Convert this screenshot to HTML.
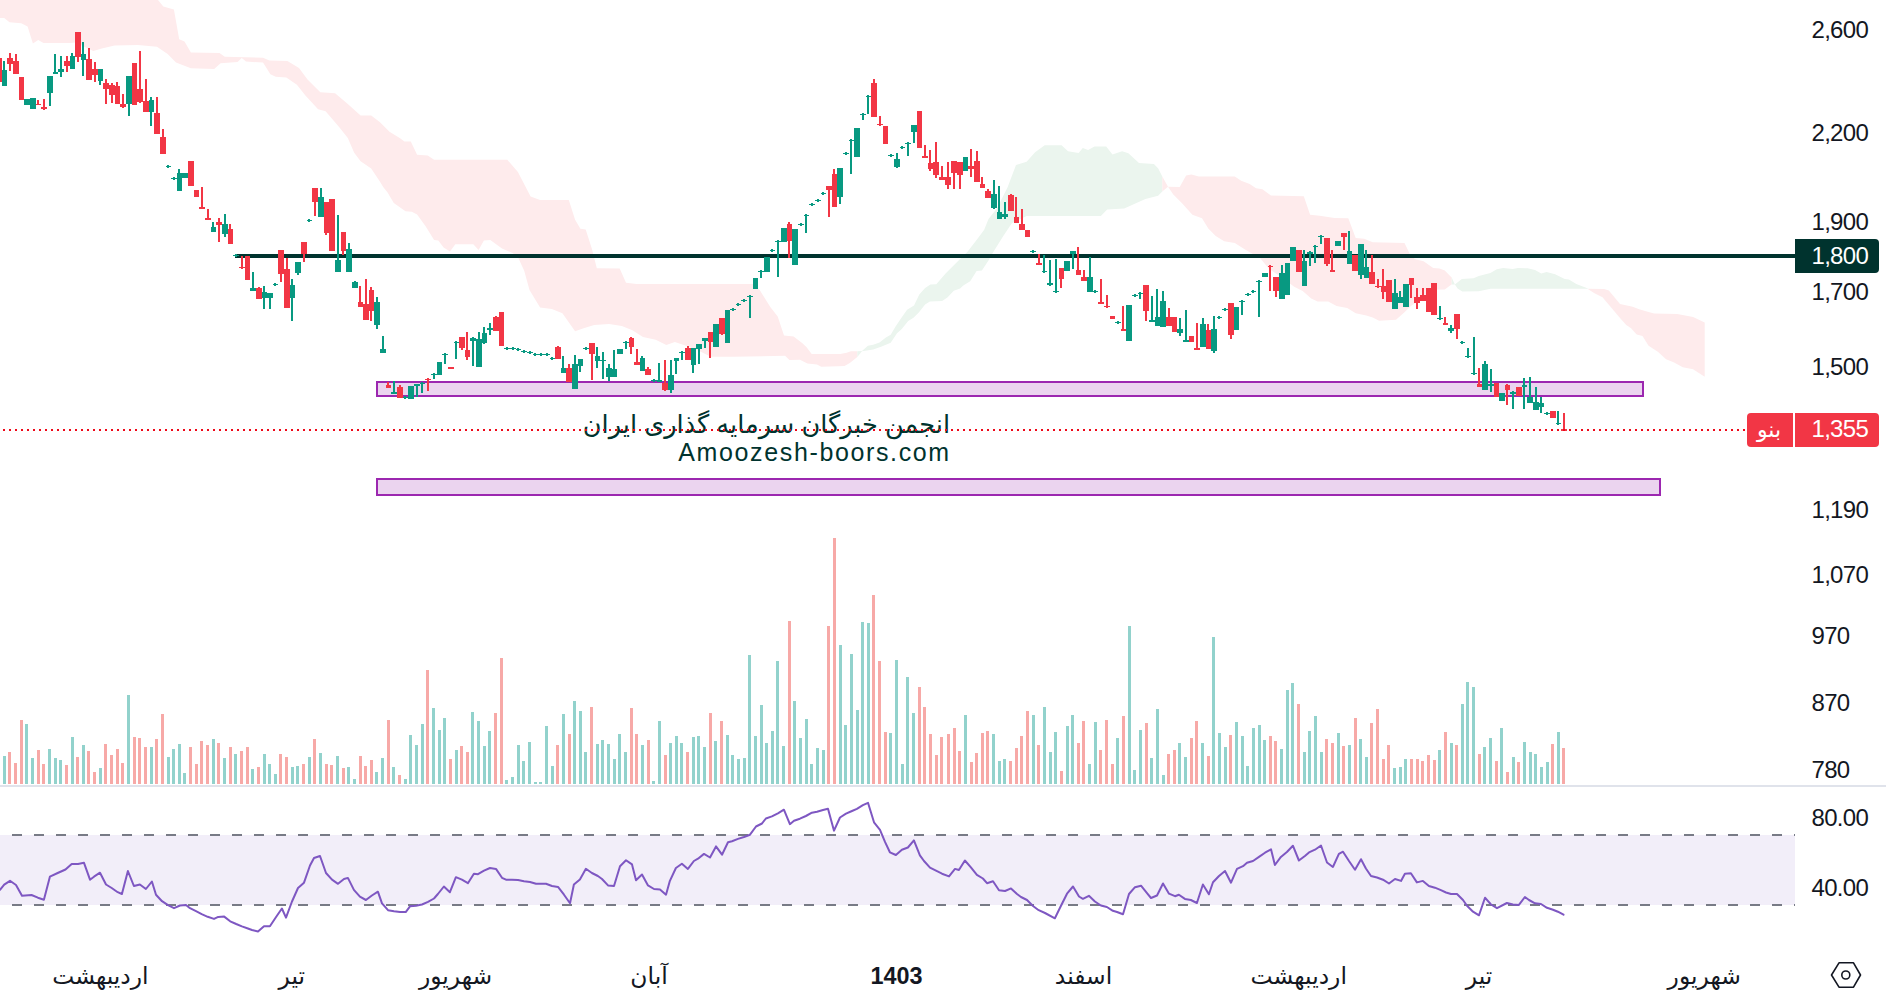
<!DOCTYPE html>
<html lang="fa"><head><meta charset="utf-8"><title>chart</title>
<style>html,body{margin:0;padding:0;background:#fff;overflow:hidden}svg{display:block}text{font-family:"Liberation Sans", "DejaVu Sans", sans-serif;}</style></head><body>
<svg width="1886" height="1000" viewBox="0 0 1886 1000">
<rect width="1886" height="1000" fill="#fff"/>
<path d="M0.0 0.0 L158.0 0.0 L163.3 6.4 L173.9 9.5 L176.0 21.2 L179.2 39.2 L184.5 41.4 L190.9 52.6 L219.5 53.0 L224.8 56.8 L263.0 57.7 L269.4 60.4 L287.4 60.9 L299.0 67.9 L307.5 79.5 L320.3 92.3 L335.1 93.3 L347.8 103.9 L360.6 115.6 L371.2 115.6 L380.0 122.3 L389.5 131.8 L400.1 138.2 L404.4 141.4 L410.8 141.4 L417.1 154.7 L427.7 155.6 L434.1 159.8 L507.3 159.8 L517.9 172.1 L530.6 196.5 L540.1 200.1 L568.8 200.1 L575.1 219.8 L580.4 228.7 L585.7 229.4 L592.1 249.5 L596.8 268.2 L619.7 268.6 L626.0 282.8 L636.6 284.1 L753.3 284.1 L759.7 290.0 L770.3 307.0 L777.7 316.5 L784.0 335.6 L793.6 336.6 L802.1 343.0 L806.4 347.0 L811.7 353.9 L840.3 353.9 L846.7 352.8 L850.9 351.2 L857.3 351.2 L857.3 357.0 L849.8 362.9 L844.5 366.0 L838.1 366.3 L821.2 366.8 L817.0 364.5 L807.4 363.4 L800.0 359.7 L789.4 360.0 L785.1 355.7 L732.1 356.8 L710.9 356.8 L700.3 351.5 L687.6 346.2 L674.8 342.0 L666.3 345.1 L655.7 339.8 L643.0 337.1 L632.4 330.3 L621.8 326.0 L609.1 323.9 L594.2 325.0 L583.6 328.2 L575.1 331.3 L562.4 313.3 L551.8 309.1 L540.1 307.4 L529.5 290.0 L524.2 270.7 L517.9 256.9 L512.6 253.1 L502.0 248.5 L490.3 240.0 L483.9 240.4 L478.6 250.0 L473.3 244.2 L455.3 244.2 L450.0 251.6 L443.6 247.4 L438.3 240.4 L434.1 240.0 L425.6 226.2 L417.1 214.5 L411.8 211.8 L405.5 211.3 L393.8 202.9 L387.4 192.3 L383.2 187.0 L380.0 181.7 L371.2 168.6 L360.6 161.2 L354.2 152.7 L347.8 137.9 L339.3 127.3 L325.6 111.3 L318.1 109.2 L305.4 95.4 L296.9 84.8 L286.3 77.4 L275.7 76.8 L270.4 74.2 L263.0 62.6 L246.0 61.5 L241.8 58.0 L237.5 61.9 L220.6 63.2 L214.2 68.9 L190.9 68.3 L176.0 62.6 L167.6 54.1 L157.0 46.7 L137.9 45.0 L114.5 45.6 L101.8 48.4 L93.3 50.9 L75.3 42.4 L70.0 43.0 L43.5 43.0 L38.2 39.9 L32.9 43.5 L27.6 26.5 L21.2 23.3 L9.5 22.3 L4.2 18.0 L0.0 18.0 Z" fill="#feebec"/>
<path d="M857.3 351.2 L862.0 351.0 L867.9 345.7 L873.2 344.8 L879.5 342.5 L885.9 337.4 L890.7 334.8 L895.4 326.8 L901.8 317.3 L907.1 309.8 L914.0 305.6 L919.3 294.5 L925.1 288.1 L930.4 284.4 L936.3 284.2 L945.8 273.3 L959.1 260.0 L967.3 252.0 L977.9 238.2 L984.2 229.7 L988.5 219.1 L996.9 208.5 L1007.6 187.3 L1016.0 165.0 L1026.6 161.8 L1035.1 152.3 L1044.7 145.3 L1061.6 145.3 L1068.0 151.2 L1078.6 152.9 L1082.8 148.0 L1088.1 150.1 L1094.5 146.5 L1106.2 146.5 L1112.5 154.4 L1122.1 151.2 L1128.4 153.3 L1139.0 162.9 L1153.9 163.9 L1158.1 168.2 L1162.3 176.5 L1162.3 191.5 L1158.1 195.7 L1145.4 198.9 L1124.2 208.5 L1107.2 209.5 L1100.9 215.9 L1026.6 215.9 L1011.8 223.3 L1003.3 236.0 L992.7 253.0 L988.8 260.0 L981.9 270.4 L976.6 271.1 L970.2 281.2 L963.3 285.5 L960.1 288.6 L953.8 290.8 L947.4 297.6 L942.1 301.1 L929.9 301.4 L925.1 304.5 L918.8 312.5 L913.5 317.8 L908.2 321.0 L901.8 328.9 L897.0 333.2 L890.7 342.7 L881.7 346.4 L873.2 349.6 L862.0 351.2 L857.3 357.0 Z" fill="#ebf5ee"/>
<path d="M1162.3 191.5 L1168.0 186.8 L1179.7 187.1 L1186.1 175.5 L1191.4 174.4 L1198.8 176.5 L1234.8 176.5 L1241.2 180.8 L1249.7 183.9 L1256.0 188.2 L1262.4 189.2 L1270.9 195.6 L1303.8 196.2 L1310.1 214.7 L1319.7 215.7 L1334.5 217.9 L1348.3 218.3 L1355.7 238.0 L1364.2 238.7 L1372.7 242.3 L1404.5 242.9 L1409.8 253.9 L1415.1 259.2 L1423.6 261.3 L1430.0 265.8 L1433.2 268.0 L1439.5 268.5 L1444.8 270.6 L1450.1 275.9 L1451.7 277.5 L1451.7 284.6 L1450.1 285.5 L1444.8 289.5 L1430.0 289.8 L1425.7 296.3 L1410.9 305.9 L1404.5 312.2 L1396.0 319.7 L1379.1 320.7 L1372.7 317.6 L1366.3 315.4 L1355.7 313.3 L1347.2 308.0 L1336.6 305.9 L1328.2 301.6 L1317.6 301.6 L1311.2 298.5 L1302.7 291.0 L1294.2 286.8 L1281.5 277.3 L1268.8 268.8 L1260.3 258.2 L1245.4 249.7 L1234.8 242.9 L1224.2 241.2 L1215.7 235.9 L1208.3 228.5 L1202.0 218.3 L1192.4 214.7 L1181.8 203.0 L1173.3 194.5 L1168.0 186.8 L1162.3 176.5 Z" fill="#feebec"/>
<path d="M1451.7 284.6 L1454.9 284.6 L1461.8 279.1 L1473.5 278.2 L1478.8 275.9 L1490.4 272.9 L1496.8 269.3 L1503.2 268.0 L1512.7 269.0 L1518.0 268.0 L1527.6 268.3 L1535.0 270.1 L1541.3 273.6 L1546.6 271.9 L1555.1 274.3 L1564.7 279.1 L1568.9 279.4 L1576.3 283.9 L1588.0 288.6 L1588.0 288.8 L1490.4 288.8 L1478.8 291.3 L1462.3 291.6 L1457.6 288.6 L1454.9 284.6 L1451.7 277.5 Z" fill="#ebf5ee"/>
<path d="M1588.2 288.8 L1604.1 289.0 L1608.8 290.6 L1620.0 304.1 L1632.7 306.8 L1639.1 309.2 L1648.6 311.9 L1654.2 313.6 L1677.2 314.0 L1693.1 317.1 L1704.7 322.4 L1704.7 376.8 L1693.1 369.2 L1682.8 367.2 L1674.1 362.5 L1666.1 359.3 L1658.2 352.1 L1648.6 345.8 L1642.5 335.9 L1636.7 334.6 L1631.1 328.3 L1626.3 325.1 L1620.0 317.9 L1612.0 308.4 L1602.5 297.3 L1594.5 293.3 L1588.2 289.2 Z" fill="#feebec"/>
<rect x="377" y="382" width="1266" height="14" fill="#ebd4ef" stroke="#9c27b0" stroke-width="2"/>
<rect x="377" y="479" width="1283" height="16" fill="#ebd4ef" stroke="#9c27b0" stroke-width="2"/>
<g shape-rendering="crispEdges">
<rect x="3" y="756" width="3" height="28" fill="#92d2cc"/>
<rect x="8" y="752" width="3" height="32" fill="#f7a9a7"/>
<rect x="14" y="763" width="3" height="21" fill="#f7a9a7"/>
<rect x="20" y="720" width="3" height="64" fill="#f7a9a7"/>
<rect x="25" y="724" width="3" height="60" fill="#92d2cc"/>
<rect x="31" y="758" width="3" height="26" fill="#92d2cc"/>
<rect x="37" y="750" width="3" height="34" fill="#f7a9a7"/>
<rect x="42" y="764" width="3" height="20" fill="#f7a9a7"/>
<rect x="48" y="749" width="3" height="35" fill="#92d2cc"/>
<rect x="54" y="758" width="3" height="26" fill="#92d2cc"/>
<rect x="59" y="760" width="3" height="24" fill="#92d2cc"/>
<rect x="65" y="765" width="3" height="19" fill="#f7a9a7"/>
<rect x="71" y="737" width="3" height="47" fill="#92d2cc"/>
<rect x="76" y="757" width="3" height="27" fill="#f7a9a7"/>
<rect x="82" y="745" width="3" height="39" fill="#92d2cc"/>
<rect x="87" y="751" width="3" height="33" fill="#f7a9a7"/>
<rect x="93" y="772" width="3" height="12" fill="#f7a9a7"/>
<rect x="99" y="768" width="3" height="16" fill="#92d2cc"/>
<rect x="104" y="744" width="3" height="40" fill="#f7a9a7"/>
<rect x="110" y="755" width="3" height="29" fill="#f7a9a7"/>
<rect x="116" y="749" width="3" height="35" fill="#f7a9a7"/>
<rect x="121" y="763" width="3" height="21" fill="#f7a9a7"/>
<rect x="127" y="695" width="3" height="89" fill="#92d2cc"/>
<rect x="133" y="737" width="3" height="47" fill="#f7a9a7"/>
<rect x="138" y="738" width="3" height="46" fill="#f7a9a7"/>
<rect x="144" y="747" width="3" height="37" fill="#f7a9a7"/>
<rect x="150" y="747" width="3" height="37" fill="#92d2cc"/>
<rect x="155" y="739" width="3" height="45" fill="#f7a9a7"/>
<rect x="161" y="714" width="3" height="70" fill="#f7a9a7"/>
<rect x="167" y="757" width="3" height="27" fill="#92d2cc"/>
<rect x="172" y="749" width="3" height="35" fill="#92d2cc"/>
<rect x="178" y="744" width="3" height="40" fill="#92d2cc"/>
<rect x="183" y="773" width="3" height="11" fill="#92d2cc"/>
<rect x="189" y="747" width="3" height="37" fill="#f7a9a7"/>
<rect x="195" y="764" width="3" height="20" fill="#f7a9a7"/>
<rect x="200" y="741" width="3" height="43" fill="#f7a9a7"/>
<rect x="206" y="745" width="3" height="39" fill="#f7a9a7"/>
<rect x="212" y="739" width="3" height="45" fill="#92d2cc"/>
<rect x="217" y="743" width="3" height="41" fill="#f7a9a7"/>
<rect x="223" y="758" width="3" height="26" fill="#92d2cc"/>
<rect x="229" y="747" width="3" height="37" fill="#f7a9a7"/>
<rect x="234" y="754" width="3" height="30" fill="#92d2cc"/>
<rect x="240" y="751" width="3" height="33" fill="#f7a9a7"/>
<rect x="246" y="747" width="3" height="37" fill="#f7a9a7"/>
<rect x="251" y="769" width="3" height="15" fill="#92d2cc"/>
<rect x="257" y="767" width="3" height="17" fill="#f7a9a7"/>
<rect x="263" y="754" width="3" height="30" fill="#92d2cc"/>
<rect x="268" y="764" width="3" height="20" fill="#92d2cc"/>
<rect x="274" y="774" width="3" height="10" fill="#92d2cc"/>
<rect x="279" y="754" width="3" height="30" fill="#f7a9a7"/>
<rect x="285" y="757" width="3" height="27" fill="#f7a9a7"/>
<rect x="291" y="767" width="3" height="17" fill="#92d2cc"/>
<rect x="296" y="766" width="3" height="18" fill="#92d2cc"/>
<rect x="302" y="764" width="3" height="20" fill="#f7a9a7"/>
<rect x="308" y="757" width="3" height="27" fill="#92d2cc"/>
<rect x="313" y="739" width="3" height="45" fill="#f7a9a7"/>
<rect x="319" y="753" width="3" height="31" fill="#92d2cc"/>
<rect x="325" y="764" width="3" height="20" fill="#f7a9a7"/>
<rect x="330" y="765" width="3" height="19" fill="#f7a9a7"/>
<rect x="336" y="756" width="3" height="28" fill="#92d2cc"/>
<rect x="342" y="768" width="3" height="16" fill="#f7a9a7"/>
<rect x="347" y="767" width="3" height="17" fill="#92d2cc"/>
<rect x="353" y="779" width="3" height="5" fill="#92d2cc"/>
<rect x="359" y="756" width="3" height="28" fill="#f7a9a7"/>
<rect x="364" y="766" width="3" height="18" fill="#f7a9a7"/>
<rect x="370" y="760" width="3" height="24" fill="#f7a9a7"/>
<rect x="375" y="772" width="3" height="12" fill="#92d2cc"/>
<rect x="381" y="758" width="3" height="26" fill="#92d2cc"/>
<rect x="387" y="720" width="3" height="64" fill="#f7a9a7"/>
<rect x="392" y="767" width="3" height="17" fill="#92d2cc"/>
<rect x="398" y="775" width="3" height="9" fill="#f7a9a7"/>
<rect x="404" y="779" width="3" height="5" fill="#92d2cc"/>
<rect x="409" y="735" width="3" height="49" fill="#92d2cc"/>
<rect x="415" y="745" width="3" height="39" fill="#92d2cc"/>
<rect x="421" y="724" width="3" height="60" fill="#92d2cc"/>
<rect x="426" y="670" width="3" height="114" fill="#f7a9a7"/>
<rect x="432" y="708" width="3" height="76" fill="#92d2cc"/>
<rect x="438" y="730" width="3" height="54" fill="#92d2cc"/>
<rect x="443" y="718" width="3" height="66" fill="#92d2cc"/>
<rect x="449" y="759" width="3" height="25" fill="#f7a9a7"/>
<rect x="455" y="750" width="3" height="34" fill="#92d2cc"/>
<rect x="460" y="746" width="3" height="38" fill="#f7a9a7"/>
<rect x="466" y="752" width="3" height="32" fill="#f7a9a7"/>
<rect x="471" y="712" width="3" height="72" fill="#92d2cc"/>
<rect x="477" y="721" width="3" height="63" fill="#92d2cc"/>
<rect x="483" y="746" width="3" height="38" fill="#92d2cc"/>
<rect x="488" y="731" width="3" height="53" fill="#92d2cc"/>
<rect x="494" y="713" width="3" height="71" fill="#f7a9a7"/>
<rect x="500" y="658" width="3" height="126" fill="#f7a9a7"/>
<rect x="505" y="780" width="3" height="4" fill="#92d2cc"/>
<rect x="511" y="777" width="3" height="7" fill="#92d2cc"/>
<rect x="517" y="745" width="3" height="39" fill="#92d2cc"/>
<rect x="522" y="761" width="3" height="23" fill="#92d2cc"/>
<rect x="528" y="742" width="3" height="42" fill="#92d2cc"/>
<rect x="534" y="782" width="3" height="2" fill="#92d2cc"/>
<rect x="539" y="782" width="3" height="2" fill="#92d2cc"/>
<rect x="545" y="726" width="3" height="58" fill="#92d2cc"/>
<rect x="551" y="766" width="3" height="18" fill="#92d2cc"/>
<rect x="556" y="745" width="3" height="39" fill="#f7a9a7"/>
<rect x="562" y="714" width="3" height="70" fill="#92d2cc"/>
<rect x="568" y="734" width="3" height="50" fill="#f7a9a7"/>
<rect x="573" y="701" width="3" height="83" fill="#92d2cc"/>
<rect x="579" y="711" width="3" height="73" fill="#92d2cc"/>
<rect x="584" y="752" width="3" height="32" fill="#92d2cc"/>
<rect x="590" y="707" width="3" height="77" fill="#f7a9a7"/>
<rect x="596" y="744" width="3" height="40" fill="#92d2cc"/>
<rect x="601" y="740" width="3" height="44" fill="#92d2cc"/>
<rect x="607" y="744" width="3" height="40" fill="#92d2cc"/>
<rect x="613" y="759" width="3" height="25" fill="#92d2cc"/>
<rect x="618" y="734" width="3" height="50" fill="#92d2cc"/>
<rect x="624" y="752" width="3" height="32" fill="#92d2cc"/>
<rect x="630" y="708" width="3" height="76" fill="#f7a9a7"/>
<rect x="635" y="734" width="3" height="50" fill="#f7a9a7"/>
<rect x="641" y="745" width="3" height="39" fill="#92d2cc"/>
<rect x="647" y="740" width="3" height="44" fill="#f7a9a7"/>
<rect x="652" y="781" width="3" height="3" fill="#92d2cc"/>
<rect x="658" y="721" width="3" height="63" fill="#92d2cc"/>
<rect x="664" y="755" width="3" height="29" fill="#f7a9a7"/>
<rect x="669" y="743" width="3" height="41" fill="#92d2cc"/>
<rect x="675" y="736" width="3" height="48" fill="#92d2cc"/>
<rect x="680" y="743" width="3" height="41" fill="#92d2cc"/>
<rect x="686" y="752" width="3" height="32" fill="#f7a9a7"/>
<rect x="692" y="737" width="3" height="47" fill="#92d2cc"/>
<rect x="697" y="736" width="3" height="48" fill="#92d2cc"/>
<rect x="703" y="747" width="3" height="37" fill="#92d2cc"/>
<rect x="709" y="713" width="3" height="71" fill="#f7a9a7"/>
<rect x="714" y="741" width="3" height="43" fill="#92d2cc"/>
<rect x="720" y="721" width="3" height="63" fill="#f7a9a7"/>
<rect x="726" y="735" width="3" height="49" fill="#92d2cc"/>
<rect x="731" y="755" width="3" height="29" fill="#92d2cc"/>
<rect x="737" y="759" width="3" height="25" fill="#92d2cc"/>
<rect x="743" y="758" width="3" height="26" fill="#92d2cc"/>
<rect x="748" y="655" width="3" height="129" fill="#92d2cc"/>
<rect x="754" y="736" width="3" height="48" fill="#92d2cc"/>
<rect x="760" y="705" width="3" height="79" fill="#92d2cc"/>
<rect x="765" y="743" width="3" height="41" fill="#92d2cc"/>
<rect x="771" y="731" width="3" height="53" fill="#92d2cc"/>
<rect x="776" y="661" width="3" height="123" fill="#92d2cc"/>
<rect x="782" y="746" width="3" height="38" fill="#92d2cc"/>
<rect x="788" y="621" width="3" height="163" fill="#f7a9a7"/>
<rect x="793" y="701" width="3" height="83" fill="#92d2cc"/>
<rect x="799" y="738" width="3" height="46" fill="#92d2cc"/>
<rect x="805" y="719" width="3" height="65" fill="#92d2cc"/>
<rect x="810" y="764" width="3" height="20" fill="#92d2cc"/>
<rect x="816" y="748" width="3" height="36" fill="#92d2cc"/>
<rect x="822" y="750" width="3" height="34" fill="#92d2cc"/>
<rect x="827" y="626" width="3" height="158" fill="#f7a9a7"/>
<rect x="833" y="538" width="3" height="246" fill="#f7a9a7"/>
<rect x="839" y="645" width="3" height="139" fill="#92d2cc"/>
<rect x="844" y="725" width="3" height="59" fill="#92d2cc"/>
<rect x="850" y="654" width="3" height="130" fill="#92d2cc"/>
<rect x="856" y="710" width="3" height="74" fill="#92d2cc"/>
<rect x="861" y="622" width="3" height="162" fill="#92d2cc"/>
<rect x="867" y="623" width="3" height="161" fill="#92d2cc"/>
<rect x="872" y="595" width="3" height="189" fill="#f7a9a7"/>
<rect x="878" y="661" width="3" height="123" fill="#f7a9a7"/>
<rect x="884" y="732" width="3" height="52" fill="#f7a9a7"/>
<rect x="889" y="733" width="3" height="51" fill="#92d2cc"/>
<rect x="895" y="660" width="3" height="124" fill="#92d2cc"/>
<rect x="901" y="764" width="3" height="20" fill="#92d2cc"/>
<rect x="906" y="677" width="3" height="107" fill="#92d2cc"/>
<rect x="912" y="713" width="3" height="71" fill="#92d2cc"/>
<rect x="918" y="687" width="3" height="97" fill="#f7a9a7"/>
<rect x="923" y="707" width="3" height="77" fill="#f7a9a7"/>
<rect x="929" y="734" width="3" height="50" fill="#f7a9a7"/>
<rect x="935" y="755" width="3" height="29" fill="#f7a9a7"/>
<rect x="940" y="737" width="3" height="47" fill="#f7a9a7"/>
<rect x="947" y="734" width="3" height="50" fill="#f7a9a7"/>
<rect x="953" y="728" width="3" height="56" fill="#f7a9a7"/>
<rect x="958" y="751" width="3" height="33" fill="#f7a9a7"/>
<rect x="964" y="715" width="3" height="69" fill="#92d2cc"/>
<rect x="970" y="762" width="3" height="22" fill="#f7a9a7"/>
<rect x="975" y="753" width="3" height="31" fill="#f7a9a7"/>
<rect x="981" y="733" width="3" height="51" fill="#f7a9a7"/>
<rect x="986" y="731" width="3" height="53" fill="#f7a9a7"/>
<rect x="992" y="734" width="3" height="50" fill="#92d2cc"/>
<rect x="998" y="761" width="3" height="23" fill="#92d2cc"/>
<rect x="1003" y="759" width="3" height="25" fill="#92d2cc"/>
<rect x="1009" y="761" width="3" height="23" fill="#f7a9a7"/>
<rect x="1015" y="748" width="3" height="36" fill="#f7a9a7"/>
<rect x="1020" y="736" width="3" height="48" fill="#f7a9a7"/>
<rect x="1026" y="711" width="3" height="73" fill="#f7a9a7"/>
<rect x="1032" y="715" width="3" height="69" fill="#92d2cc"/>
<rect x="1037" y="745" width="3" height="39" fill="#f7a9a7"/>
<rect x="1043" y="707" width="3" height="77" fill="#92d2cc"/>
<rect x="1049" y="752" width="3" height="32" fill="#92d2cc"/>
<rect x="1054" y="732" width="3" height="52" fill="#92d2cc"/>
<rect x="1060" y="771" width="3" height="13" fill="#f7a9a7"/>
<rect x="1066" y="726" width="3" height="58" fill="#92d2cc"/>
<rect x="1071" y="715" width="3" height="69" fill="#92d2cc"/>
<rect x="1077" y="743" width="3" height="41" fill="#f7a9a7"/>
<rect x="1082" y="721" width="3" height="63" fill="#f7a9a7"/>
<rect x="1088" y="764" width="3" height="20" fill="#92d2cc"/>
<rect x="1094" y="722" width="3" height="62" fill="#92d2cc"/>
<rect x="1099" y="750" width="3" height="34" fill="#f7a9a7"/>
<rect x="1105" y="720" width="3" height="64" fill="#f7a9a7"/>
<rect x="1111" y="764" width="3" height="20" fill="#f7a9a7"/>
<rect x="1116" y="738" width="3" height="46" fill="#92d2cc"/>
<rect x="1122" y="716" width="3" height="68" fill="#f7a9a7"/>
<rect x="1128" y="626" width="3" height="158" fill="#92d2cc"/>
<rect x="1133" y="770" width="3" height="14" fill="#92d2cc"/>
<rect x="1139" y="730" width="3" height="54" fill="#92d2cc"/>
<rect x="1145" y="723" width="3" height="61" fill="#f7a9a7"/>
<rect x="1150" y="758" width="3" height="26" fill="#92d2cc"/>
<rect x="1156" y="709" width="3" height="75" fill="#92d2cc"/>
<rect x="1162" y="775" width="3" height="9" fill="#92d2cc"/>
<rect x="1167" y="754" width="3" height="30" fill="#f7a9a7"/>
<rect x="1173" y="750" width="3" height="34" fill="#f7a9a7"/>
<rect x="1178" y="743" width="3" height="41" fill="#92d2cc"/>
<rect x="1184" y="757" width="3" height="27" fill="#92d2cc"/>
<rect x="1190" y="738" width="3" height="46" fill="#f7a9a7"/>
<rect x="1195" y="721" width="3" height="63" fill="#f7a9a7"/>
<rect x="1201" y="743" width="3" height="41" fill="#92d2cc"/>
<rect x="1207" y="756" width="3" height="28" fill="#f7a9a7"/>
<rect x="1212" y="637" width="3" height="147" fill="#92d2cc"/>
<rect x="1218" y="733" width="3" height="51" fill="#92d2cc"/>
<rect x="1224" y="747" width="3" height="37" fill="#92d2cc"/>
<rect x="1229" y="735" width="3" height="49" fill="#f7a9a7"/>
<rect x="1235" y="722" width="3" height="62" fill="#92d2cc"/>
<rect x="1241" y="736" width="3" height="48" fill="#92d2cc"/>
<rect x="1246" y="766" width="3" height="18" fill="#92d2cc"/>
<rect x="1252" y="728" width="3" height="56" fill="#92d2cc"/>
<rect x="1258" y="725" width="3" height="59" fill="#92d2cc"/>
<rect x="1263" y="740" width="3" height="44" fill="#92d2cc"/>
<rect x="1269" y="736" width="3" height="48" fill="#f7a9a7"/>
<rect x="1274" y="741" width="3" height="43" fill="#f7a9a7"/>
<rect x="1280" y="749" width="3" height="35" fill="#92d2cc"/>
<rect x="1286" y="690" width="3" height="94" fill="#92d2cc"/>
<rect x="1291" y="683" width="3" height="101" fill="#92d2cc"/>
<rect x="1297" y="704" width="3" height="80" fill="#f7a9a7"/>
<rect x="1303" y="752" width="3" height="32" fill="#92d2cc"/>
<rect x="1308" y="731" width="3" height="53" fill="#92d2cc"/>
<rect x="1314" y="716" width="3" height="68" fill="#92d2cc"/>
<rect x="1320" y="752" width="3" height="32" fill="#92d2cc"/>
<rect x="1325" y="739" width="3" height="45" fill="#f7a9a7"/>
<rect x="1331" y="743" width="3" height="41" fill="#f7a9a7"/>
<rect x="1337" y="733" width="3" height="51" fill="#92d2cc"/>
<rect x="1342" y="746" width="3" height="38" fill="#f7a9a7"/>
<rect x="1348" y="745" width="3" height="39" fill="#92d2cc"/>
<rect x="1354" y="718" width="3" height="66" fill="#f7a9a7"/>
<rect x="1359" y="739" width="3" height="45" fill="#92d2cc"/>
<rect x="1365" y="757" width="3" height="27" fill="#92d2cc"/>
<rect x="1370" y="723" width="3" height="61" fill="#f7a9a7"/>
<rect x="1376" y="709" width="3" height="75" fill="#f7a9a7"/>
<rect x="1382" y="759" width="3" height="25" fill="#f7a9a7"/>
<rect x="1387" y="745" width="3" height="39" fill="#f7a9a7"/>
<rect x="1393" y="768" width="3" height="16" fill="#92d2cc"/>
<rect x="1399" y="767" width="3" height="17" fill="#92d2cc"/>
<rect x="1404" y="759" width="3" height="25" fill="#92d2cc"/>
<rect x="1410" y="759" width="3" height="25" fill="#f7a9a7"/>
<rect x="1416" y="759" width="3" height="25" fill="#f7a9a7"/>
<rect x="1421" y="761" width="3" height="23" fill="#f7a9a7"/>
<rect x="1427" y="755" width="3" height="29" fill="#f7a9a7"/>
<rect x="1433" y="760" width="3" height="24" fill="#f7a9a7"/>
<rect x="1438" y="750" width="3" height="34" fill="#92d2cc"/>
<rect x="1444" y="732" width="3" height="52" fill="#f7a9a7"/>
<rect x="1450" y="743" width="3" height="41" fill="#92d2cc"/>
<rect x="1455" y="745" width="3" height="39" fill="#f7a9a7"/>
<rect x="1461" y="704" width="3" height="80" fill="#92d2cc"/>
<rect x="1466" y="682" width="3" height="102" fill="#92d2cc"/>
<rect x="1472" y="687" width="3" height="97" fill="#92d2cc"/>
<rect x="1478" y="754" width="3" height="30" fill="#f7a9a7"/>
<rect x="1483" y="747" width="3" height="37" fill="#92d2cc"/>
<rect x="1489" y="738" width="3" height="46" fill="#92d2cc"/>
<rect x="1495" y="761" width="3" height="23" fill="#f7a9a7"/>
<rect x="1500" y="728" width="3" height="56" fill="#92d2cc"/>
<rect x="1506" y="772" width="3" height="12" fill="#f7a9a7"/>
<rect x="1512" y="757" width="3" height="27" fill="#92d2cc"/>
<rect x="1517" y="762" width="3" height="22" fill="#f7a9a7"/>
<rect x="1523" y="742" width="3" height="42" fill="#92d2cc"/>
<rect x="1529" y="752" width="3" height="32" fill="#92d2cc"/>
<rect x="1534" y="754" width="3" height="30" fill="#92d2cc"/>
<rect x="1540" y="767" width="3" height="17" fill="#92d2cc"/>
<rect x="1546" y="762" width="3" height="22" fill="#92d2cc"/>
<rect x="1551" y="744" width="3" height="40" fill="#f7a9a7"/>
<rect x="1557" y="732" width="3" height="52" fill="#92d2cc"/>
<rect x="1562" y="748" width="3" height="36" fill="#f7a9a7"/>
</g>
<rect x="235" y="254" width="1562" height="4" fill="#00332e"/>
<g shape-rendering="crispEdges">
<rect x="-2" y="58" width="2" height="24" fill="#f23645"/>
<rect x="-4" y="58" width="6" height="24" fill="#f23645"/>
<rect x="3" y="61" width="2" height="25" fill="#089981"/>
<rect x="2" y="70" width="5" height="16" fill="#089981"/>
<rect x="9" y="53" width="2" height="18" fill="#f23645"/>
<rect x="7" y="58" width="6" height="6" fill="#f23645"/>
<rect x="15" y="54" width="2" height="20" fill="#f23645"/>
<rect x="13" y="61" width="6" height="13" fill="#f23645"/>
<rect x="20" y="77" width="2" height="23" fill="#f23645"/>
<rect x="19" y="77" width="5" height="23" fill="#f23645"/>
<rect x="26" y="99" width="2" height="6" fill="#089981"/>
<rect x="24" y="99" width="6" height="6" fill="#089981"/>
<rect x="32" y="98" width="2" height="11" fill="#089981"/>
<rect x="30" y="98" width="6" height="11" fill="#089981"/>
<rect x="37" y="100" width="2" height="5" fill="#f23645"/>
<rect x="36" y="104" width="5" height="1" fill="#f23645"/>
<rect x="43" y="99" width="2" height="11" fill="#f23645"/>
<rect x="41" y="107" width="6" height="2" fill="#f23645"/>
<rect x="49" y="76" width="2" height="30" fill="#089981"/>
<rect x="47" y="76" width="6" height="17" fill="#089981"/>
<rect x="54" y="54" width="2" height="20" fill="#089981"/>
<rect x="53" y="72" width="5" height="2" fill="#089981"/>
<rect x="60" y="56" width="2" height="21" fill="#089981"/>
<rect x="58" y="69" width="6" height="3" fill="#089981"/>
<rect x="66" y="56" width="2" height="16" fill="#f23645"/>
<rect x="64" y="61" width="6" height="5" fill="#f23645"/>
<rect x="71" y="53" width="2" height="16" fill="#089981"/>
<rect x="70" y="56" width="5" height="13" fill="#089981"/>
<rect x="77" y="32" width="2" height="30" fill="#f23645"/>
<rect x="75" y="32" width="6" height="25" fill="#f23645"/>
<rect x="82" y="42" width="2" height="34" fill="#089981"/>
<rect x="81" y="54" width="5" height="6" fill="#089981"/>
<rect x="88" y="48" width="2" height="32" fill="#f23645"/>
<rect x="86" y="59" width="6" height="21" fill="#f23645"/>
<rect x="94" y="62" width="2" height="20" fill="#f23645"/>
<rect x="92" y="69" width="6" height="6" fill="#f23645"/>
<rect x="99" y="69" width="2" height="16" fill="#089981"/>
<rect x="98" y="69" width="5" height="12" fill="#089981"/>
<rect x="105" y="79" width="2" height="25" fill="#f23645"/>
<rect x="103" y="83" width="6" height="6" fill="#f23645"/>
<rect x="111" y="83" width="2" height="20" fill="#f23645"/>
<rect x="109" y="85" width="6" height="10" fill="#f23645"/>
<rect x="116" y="82" width="2" height="22" fill="#f23645"/>
<rect x="115" y="86" width="5" height="18" fill="#f23645"/>
<rect x="122" y="94" width="2" height="14" fill="#f23645"/>
<rect x="120" y="104" width="6" height="3" fill="#f23645"/>
<rect x="128" y="76" width="2" height="40" fill="#089981"/>
<rect x="126" y="76" width="6" height="28" fill="#089981"/>
<rect x="133" y="63" width="2" height="42" fill="#f23645"/>
<rect x="132" y="63" width="5" height="42" fill="#f23645"/>
<rect x="139" y="51" width="2" height="52" fill="#f23645"/>
<rect x="137" y="89" width="6" height="13" fill="#f23645"/>
<rect x="145" y="79" width="2" height="33" fill="#f23645"/>
<rect x="143" y="101" width="6" height="11" fill="#f23645"/>
<rect x="150" y="97" width="2" height="29" fill="#089981"/>
<rect x="149" y="100" width="5" height="12" fill="#089981"/>
<rect x="156" y="97" width="2" height="37" fill="#f23645"/>
<rect x="154" y="113" width="6" height="21" fill="#f23645"/>
<rect x="162" y="129" width="2" height="25" fill="#f23645"/>
<rect x="160" y="137" width="6" height="17" fill="#f23645"/>
<rect x="167" y="165" width="2" height="3" fill="#089981"/>
<rect x="166" y="166" width="5" height="1" fill="#089981"/>
<rect x="173" y="177" width="2" height="3" fill="#089981"/>
<rect x="171" y="178" width="6" height="1" fill="#089981"/>
<rect x="178" y="169" width="2" height="22" fill="#089981"/>
<rect x="177" y="173" width="5" height="18" fill="#089981"/>
<rect x="184" y="173" width="2" height="5" fill="#089981"/>
<rect x="182" y="173" width="6" height="5" fill="#089981"/>
<rect x="190" y="161" width="2" height="25" fill="#f23645"/>
<rect x="188" y="161" width="6" height="25" fill="#f23645"/>
<rect x="195" y="190" width="2" height="7" fill="#f23645"/>
<rect x="194" y="190" width="5" height="7" fill="#f23645"/>
<rect x="201" y="187" width="2" height="22" fill="#f23645"/>
<rect x="199" y="207" width="6" height="2" fill="#f23645"/>
<rect x="207" y="209" width="2" height="11" fill="#f23645"/>
<rect x="205" y="218" width="6" height="2" fill="#f23645"/>
<rect x="212" y="222" width="2" height="10" fill="#089981"/>
<rect x="211" y="227" width="5" height="5" fill="#089981"/>
<rect x="218" y="218" width="2" height="24" fill="#f23645"/>
<rect x="216" y="222" width="6" height="3" fill="#f23645"/>
<rect x="224" y="214" width="2" height="23" fill="#089981"/>
<rect x="222" y="224" width="6" height="10" fill="#089981"/>
<rect x="229" y="224" width="2" height="20" fill="#f23645"/>
<rect x="228" y="229" width="5" height="15" fill="#f23645"/>
<rect x="235" y="254" width="2" height="3" fill="#089981"/>
<rect x="233" y="255" width="6" height="1" fill="#089981"/>
<rect x="241" y="256" width="2" height="13" fill="#f23645"/>
<rect x="239" y="267" width="6" height="1" fill="#f23645"/>
<rect x="246" y="256" width="2" height="24" fill="#f23645"/>
<rect x="245" y="256" width="5" height="24" fill="#f23645"/>
<rect x="252" y="272" width="2" height="19" fill="#089981"/>
<rect x="250" y="288" width="6" height="3" fill="#089981"/>
<rect x="258" y="287" width="2" height="12" fill="#f23645"/>
<rect x="256" y="288" width="6" height="11" fill="#f23645"/>
<rect x="263" y="286" width="2" height="23" fill="#089981"/>
<rect x="262" y="292" width="5" height="6" fill="#089981"/>
<rect x="269" y="293" width="2" height="16" fill="#089981"/>
<rect x="267" y="293" width="6" height="5" fill="#089981"/>
<rect x="274" y="283" width="2" height="3" fill="#089981"/>
<rect x="273" y="284" width="5" height="1" fill="#089981"/>
<rect x="280" y="250" width="2" height="32" fill="#f23645"/>
<rect x="278" y="250" width="6" height="24" fill="#f23645"/>
<rect x="286" y="258" width="2" height="50" fill="#f23645"/>
<rect x="284" y="269" width="6" height="39" fill="#f23645"/>
<rect x="291" y="279" width="2" height="42" fill="#089981"/>
<rect x="290" y="285" width="5" height="13" fill="#089981"/>
<rect x="297" y="262" width="2" height="13" fill="#089981"/>
<rect x="295" y="262" width="6" height="11" fill="#089981"/>
<rect x="303" y="242" width="2" height="20" fill="#f23645"/>
<rect x="301" y="242" width="6" height="12" fill="#f23645"/>
<rect x="308" y="219" width="2" height="3" fill="#089981"/>
<rect x="307" y="220" width="5" height="1" fill="#089981"/>
<rect x="314" y="188" width="2" height="28" fill="#f23645"/>
<rect x="312" y="188" width="6" height="14" fill="#f23645"/>
<rect x="320" y="188" width="2" height="29" fill="#089981"/>
<rect x="318" y="197" width="6" height="20" fill="#089981"/>
<rect x="325" y="202" width="2" height="33" fill="#f23645"/>
<rect x="324" y="202" width="5" height="31" fill="#f23645"/>
<rect x="331" y="199" width="2" height="52" fill="#f23645"/>
<rect x="329" y="199" width="6" height="52" fill="#f23645"/>
<rect x="337" y="215" width="2" height="57" fill="#089981"/>
<rect x="335" y="260" width="6" height="12" fill="#089981"/>
<rect x="342" y="232" width="2" height="23" fill="#f23645"/>
<rect x="341" y="232" width="5" height="19" fill="#f23645"/>
<rect x="348" y="243" width="2" height="29" fill="#089981"/>
<rect x="346" y="249" width="6" height="23" fill="#089981"/>
<rect x="354" y="281" width="2" height="7" fill="#089981"/>
<rect x="352" y="282" width="6" height="6" fill="#089981"/>
<rect x="359" y="286" width="2" height="21" fill="#f23645"/>
<rect x="358" y="302" width="5" height="5" fill="#f23645"/>
<rect x="365" y="279" width="2" height="41" fill="#f23645"/>
<rect x="363" y="304" width="6" height="16" fill="#f23645"/>
<rect x="370" y="287" width="2" height="34" fill="#f23645"/>
<rect x="369" y="290" width="5" height="21" fill="#f23645"/>
<rect x="376" y="297" width="2" height="32" fill="#089981"/>
<rect x="374" y="302" width="6" height="23" fill="#089981"/>
<rect x="382" y="336" width="2" height="17" fill="#089981"/>
<rect x="380" y="349" width="6" height="4" fill="#089981"/>
<rect x="387" y="382" width="2" height="6" fill="#f23645"/>
<rect x="386" y="385" width="5" height="3" fill="#f23645"/>
<rect x="393" y="381" width="2" height="13" fill="#089981"/>
<rect x="391" y="392" width="6" height="2" fill="#089981"/>
<rect x="399" y="385" width="2" height="13" fill="#f23645"/>
<rect x="397" y="387" width="6" height="11" fill="#f23645"/>
<rect x="404" y="396" width="2" height="3" fill="#089981"/>
<rect x="403" y="397" width="5" height="1" fill="#089981"/>
<rect x="410" y="386" width="2" height="13" fill="#089981"/>
<rect x="408" y="386" width="6" height="13" fill="#089981"/>
<rect x="416" y="384" width="2" height="13" fill="#089981"/>
<rect x="414" y="384" width="6" height="2" fill="#089981"/>
<rect x="421" y="382" width="2" height="11" fill="#089981"/>
<rect x="420" y="383" width="5" height="1" fill="#089981"/>
<rect x="427" y="378" width="2" height="13" fill="#f23645"/>
<rect x="425" y="379" width="6" height="1" fill="#f23645"/>
<rect x="433" y="373" width="2" height="6" fill="#089981"/>
<rect x="431" y="374" width="6" height="1" fill="#089981"/>
<rect x="438" y="362" width="2" height="13" fill="#089981"/>
<rect x="437" y="362" width="5" height="13" fill="#089981"/>
<rect x="444" y="353" width="2" height="11" fill="#089981"/>
<rect x="442" y="354" width="6" height="1" fill="#089981"/>
<rect x="450" y="367" width="2" height="2" fill="#f23645"/>
<rect x="448" y="367" width="6" height="2" fill="#f23645"/>
<rect x="455" y="341" width="2" height="18" fill="#089981"/>
<rect x="454" y="342" width="5" height="1" fill="#089981"/>
<rect x="461" y="337" width="2" height="13" fill="#f23645"/>
<rect x="459" y="337" width="6" height="11" fill="#f23645"/>
<rect x="466" y="332" width="2" height="28" fill="#f23645"/>
<rect x="465" y="350" width="5" height="7" fill="#f23645"/>
<rect x="472" y="337" width="2" height="29" fill="#089981"/>
<rect x="470" y="338" width="6" height="3" fill="#089981"/>
<rect x="478" y="332" width="2" height="35" fill="#089981"/>
<rect x="476" y="339" width="6" height="28" fill="#089981"/>
<rect x="483" y="327" width="2" height="17" fill="#089981"/>
<rect x="482" y="333" width="5" height="10" fill="#089981"/>
<rect x="489" y="323" width="2" height="12" fill="#089981"/>
<rect x="487" y="328" width="6" height="2" fill="#089981"/>
<rect x="495" y="316" width="2" height="15" fill="#f23645"/>
<rect x="493" y="317" width="6" height="14" fill="#f23645"/>
<rect x="500" y="312" width="2" height="34" fill="#f23645"/>
<rect x="499" y="312" width="5" height="34" fill="#f23645"/>
<rect x="506" y="347" width="2" height="3" fill="#089981"/>
<rect x="504" y="348" width="6" height="1" fill="#089981"/>
<rect x="512" y="347" width="2" height="3" fill="#089981"/>
<rect x="510" y="348" width="6" height="1" fill="#089981"/>
<rect x="517" y="348" width="2" height="3" fill="#089981"/>
<rect x="516" y="349" width="5" height="1" fill="#089981"/>
<rect x="523" y="350" width="2" height="3" fill="#089981"/>
<rect x="521" y="351" width="6" height="1" fill="#089981"/>
<rect x="529" y="351" width="2" height="3" fill="#089981"/>
<rect x="527" y="352" width="6" height="1" fill="#089981"/>
<rect x="534" y="353" width="2" height="3" fill="#089981"/>
<rect x="533" y="354" width="5" height="1" fill="#089981"/>
<rect x="540" y="353" width="2" height="3" fill="#089981"/>
<rect x="538" y="354" width="6" height="1" fill="#089981"/>
<rect x="546" y="353" width="2" height="3" fill="#089981"/>
<rect x="544" y="354" width="6" height="1" fill="#089981"/>
<rect x="551" y="357" width="2" height="3" fill="#089981"/>
<rect x="550" y="358" width="5" height="1" fill="#089981"/>
<rect x="557" y="346" width="2" height="13" fill="#f23645"/>
<rect x="555" y="347" width="6" height="12" fill="#f23645"/>
<rect x="562" y="356" width="2" height="17" fill="#089981"/>
<rect x="561" y="368" width="5" height="5" fill="#089981"/>
<rect x="568" y="364" width="2" height="18" fill="#f23645"/>
<rect x="566" y="368" width="6" height="14" fill="#f23645"/>
<rect x="574" y="355" width="2" height="34" fill="#089981"/>
<rect x="572" y="364" width="6" height="25" fill="#089981"/>
<rect x="579" y="359" width="2" height="13" fill="#089981"/>
<rect x="578" y="359" width="5" height="7" fill="#089981"/>
<rect x="585" y="347" width="2" height="3" fill="#089981"/>
<rect x="583" y="348" width="6" height="1" fill="#089981"/>
<rect x="591" y="343" width="2" height="37" fill="#f23645"/>
<rect x="589" y="343" width="6" height="11" fill="#f23645"/>
<rect x="596" y="347" width="2" height="21" fill="#089981"/>
<rect x="595" y="356" width="5" height="5" fill="#089981"/>
<rect x="602" y="352" width="2" height="27" fill="#089981"/>
<rect x="600" y="360" width="6" height="1" fill="#089981"/>
<rect x="608" y="364" width="2" height="17" fill="#089981"/>
<rect x="606" y="368" width="6" height="9" fill="#089981"/>
<rect x="613" y="350" width="2" height="27" fill="#089981"/>
<rect x="612" y="369" width="5" height="8" fill="#089981"/>
<rect x="619" y="349" width="2" height="5" fill="#089981"/>
<rect x="617" y="349" width="6" height="5" fill="#089981"/>
<rect x="625" y="341" width="2" height="8" fill="#089981"/>
<rect x="623" y="342" width="6" height="1" fill="#089981"/>
<rect x="630" y="337" width="2" height="17" fill="#f23645"/>
<rect x="629" y="338" width="5" height="9" fill="#f23645"/>
<rect x="636" y="349" width="2" height="16" fill="#f23645"/>
<rect x="634" y="362" width="6" height="3" fill="#f23645"/>
<rect x="641" y="356" width="2" height="15" fill="#089981"/>
<rect x="640" y="358" width="5" height="13" fill="#089981"/>
<rect x="647" y="367" width="2" height="8" fill="#f23645"/>
<rect x="645" y="369" width="6" height="6" fill="#f23645"/>
<rect x="653" y="379" width="2" height="3" fill="#089981"/>
<rect x="651" y="380" width="6" height="1" fill="#089981"/>
<rect x="658" y="363" width="2" height="19" fill="#089981"/>
<rect x="657" y="380" width="5" height="2" fill="#089981"/>
<rect x="664" y="360" width="2" height="31" fill="#f23645"/>
<rect x="662" y="383" width="6" height="7" fill="#f23645"/>
<rect x="670" y="360" width="2" height="33" fill="#089981"/>
<rect x="668" y="375" width="6" height="15" fill="#089981"/>
<rect x="675" y="358" width="2" height="16" fill="#089981"/>
<rect x="674" y="358" width="5" height="3" fill="#089981"/>
<rect x="681" y="351" width="2" height="9" fill="#089981"/>
<rect x="679" y="352" width="6" height="1" fill="#089981"/>
<rect x="687" y="346" width="2" height="14" fill="#f23645"/>
<rect x="685" y="348" width="6" height="12" fill="#f23645"/>
<rect x="692" y="348" width="2" height="25" fill="#089981"/>
<rect x="691" y="348" width="5" height="17" fill="#089981"/>
<rect x="698" y="344" width="2" height="20" fill="#089981"/>
<rect x="696" y="344" width="6" height="5" fill="#089981"/>
<rect x="704" y="338" width="2" height="10" fill="#089981"/>
<rect x="702" y="338" width="6" height="3" fill="#089981"/>
<rect x="709" y="332" width="2" height="26" fill="#f23645"/>
<rect x="708" y="332" width="5" height="10" fill="#f23645"/>
<rect x="715" y="324" width="2" height="23" fill="#089981"/>
<rect x="713" y="324" width="6" height="23" fill="#089981"/>
<rect x="721" y="318" width="2" height="17" fill="#f23645"/>
<rect x="719" y="318" width="6" height="16" fill="#f23645"/>
<rect x="726" y="310" width="2" height="33" fill="#089981"/>
<rect x="725" y="310" width="5" height="33" fill="#089981"/>
<rect x="732" y="308" width="2" height="3" fill="#089981"/>
<rect x="730" y="309" width="6" height="1" fill="#089981"/>
<rect x="737" y="303" width="2" height="3" fill="#089981"/>
<rect x="736" y="304" width="5" height="1" fill="#089981"/>
<rect x="743" y="299" width="2" height="3" fill="#089981"/>
<rect x="741" y="300" width="6" height="1" fill="#089981"/>
<rect x="749" y="295" width="2" height="23" fill="#089981"/>
<rect x="747" y="296" width="6" height="1" fill="#089981"/>
<rect x="754" y="278" width="2" height="11" fill="#089981"/>
<rect x="753" y="278" width="5" height="11" fill="#089981"/>
<rect x="760" y="270" width="2" height="8" fill="#089981"/>
<rect x="758" y="271" width="6" height="1" fill="#089981"/>
<rect x="766" y="257" width="2" height="15" fill="#089981"/>
<rect x="764" y="257" width="6" height="15" fill="#089981"/>
<rect x="771" y="249" width="2" height="3" fill="#089981"/>
<rect x="770" y="250" width="5" height="1" fill="#089981"/>
<rect x="777" y="240" width="2" height="37" fill="#089981"/>
<rect x="775" y="241" width="6" height="1" fill="#089981"/>
<rect x="783" y="228" width="2" height="14" fill="#089981"/>
<rect x="781" y="228" width="6" height="14" fill="#089981"/>
<rect x="788" y="222" width="2" height="36" fill="#f23645"/>
<rect x="787" y="224" width="5" height="17" fill="#f23645"/>
<rect x="794" y="229" width="2" height="36" fill="#089981"/>
<rect x="792" y="229" width="6" height="36" fill="#089981"/>
<rect x="800" y="223" width="2" height="3" fill="#089981"/>
<rect x="798" y="224" width="6" height="1" fill="#089981"/>
<rect x="805" y="214" width="2" height="19" fill="#089981"/>
<rect x="804" y="215" width="5" height="1" fill="#089981"/>
<rect x="811" y="203" width="2" height="3" fill="#089981"/>
<rect x="809" y="204" width="6" height="1" fill="#089981"/>
<rect x="817" y="199" width="2" height="3" fill="#089981"/>
<rect x="815" y="200" width="6" height="1" fill="#089981"/>
<rect x="822" y="192" width="2" height="3" fill="#089981"/>
<rect x="821" y="193" width="5" height="1" fill="#089981"/>
<rect x="828" y="186" width="2" height="31" fill="#f23645"/>
<rect x="826" y="186" width="6" height="4" fill="#f23645"/>
<rect x="833" y="169" width="2" height="38" fill="#f23645"/>
<rect x="832" y="174" width="5" height="33" fill="#f23645"/>
<rect x="839" y="168" width="2" height="36" fill="#089981"/>
<rect x="837" y="168" width="6" height="29" fill="#089981"/>
<rect x="845" y="152" width="2" height="3" fill="#089981"/>
<rect x="843" y="153" width="6" height="1" fill="#089981"/>
<rect x="850" y="139" width="2" height="35" fill="#089981"/>
<rect x="849" y="140" width="5" height="1" fill="#089981"/>
<rect x="856" y="128" width="2" height="29" fill="#089981"/>
<rect x="854" y="128" width="6" height="29" fill="#089981"/>
<rect x="862" y="113" width="2" height="7" fill="#089981"/>
<rect x="860" y="114" width="6" height="1" fill="#089981"/>
<rect x="867" y="95" width="2" height="19" fill="#089981"/>
<rect x="866" y="96" width="5" height="1" fill="#089981"/>
<rect x="873" y="79" width="2" height="38" fill="#f23645"/>
<rect x="871" y="83" width="6" height="34" fill="#f23645"/>
<rect x="879" y="116" width="2" height="10" fill="#f23645"/>
<rect x="877" y="124" width="6" height="1" fill="#f23645"/>
<rect x="884" y="126" width="2" height="18" fill="#f23645"/>
<rect x="883" y="126" width="5" height="18" fill="#f23645"/>
<rect x="890" y="154" width="2" height="3" fill="#089981"/>
<rect x="888" y="155" width="6" height="1" fill="#089981"/>
<rect x="896" y="153" width="2" height="15" fill="#089981"/>
<rect x="894" y="159" width="6" height="8" fill="#089981"/>
<rect x="901" y="146" width="2" height="3" fill="#089981"/>
<rect x="900" y="147" width="5" height="1" fill="#089981"/>
<rect x="907" y="142" width="2" height="14" fill="#089981"/>
<rect x="905" y="143" width="6" height="1" fill="#089981"/>
<rect x="913" y="125" width="2" height="18" fill="#089981"/>
<rect x="911" y="125" width="6" height="7" fill="#089981"/>
<rect x="918" y="111" width="2" height="37" fill="#f23645"/>
<rect x="917" y="111" width="5" height="37" fill="#f23645"/>
<rect x="924" y="145" width="2" height="13" fill="#f23645"/>
<rect x="922" y="156" width="6" height="2" fill="#f23645"/>
<rect x="929" y="150" width="2" height="21" fill="#f23645"/>
<rect x="928" y="163" width="5" height="6" fill="#f23645"/>
<rect x="935" y="142" width="2" height="36" fill="#f23645"/>
<rect x="933" y="162" width="6" height="13" fill="#f23645"/>
<rect x="941" y="166" width="2" height="14" fill="#f23645"/>
<rect x="939" y="177" width="6" height="3" fill="#f23645"/>
<rect x="947" y="162" width="2" height="27" fill="#f23645"/>
<rect x="945" y="177" width="6" height="8" fill="#f23645"/>
<rect x="953" y="161" width="2" height="28" fill="#f23645"/>
<rect x="951" y="161" width="6" height="12" fill="#f23645"/>
<rect x="959" y="162" width="2" height="27" fill="#f23645"/>
<rect x="957" y="162" width="6" height="13" fill="#f23645"/>
<rect x="964" y="157" width="2" height="14" fill="#089981"/>
<rect x="963" y="157" width="5" height="14" fill="#089981"/>
<rect x="970" y="149" width="2" height="28" fill="#f23645"/>
<rect x="968" y="166" width="6" height="3" fill="#f23645"/>
<rect x="976" y="151" width="2" height="31" fill="#f23645"/>
<rect x="974" y="161" width="6" height="21" fill="#f23645"/>
<rect x="981" y="177" width="2" height="11" fill="#f23645"/>
<rect x="980" y="184" width="5" height="4" fill="#f23645"/>
<rect x="987" y="189" width="2" height="9" fill="#f23645"/>
<rect x="985" y="191" width="6" height="7" fill="#f23645"/>
<rect x="993" y="180" width="2" height="29" fill="#089981"/>
<rect x="991" y="194" width="6" height="14" fill="#089981"/>
<rect x="998" y="186" width="2" height="33" fill="#089981"/>
<rect x="997" y="212" width="5" height="7" fill="#089981"/>
<rect x="1004" y="202" width="2" height="17" fill="#089981"/>
<rect x="1002" y="214" width="6" height="3" fill="#089981"/>
<rect x="1010" y="194" width="2" height="17" fill="#f23645"/>
<rect x="1008" y="195" width="6" height="16" fill="#f23645"/>
<rect x="1015" y="197" width="2" height="26" fill="#f23645"/>
<rect x="1014" y="217" width="5" height="6" fill="#f23645"/>
<rect x="1021" y="209" width="2" height="21" fill="#f23645"/>
<rect x="1019" y="224" width="6" height="6" fill="#f23645"/>
<rect x="1026" y="230" width="2" height="7" fill="#f23645"/>
<rect x="1025" y="230" width="5" height="7" fill="#f23645"/>
<rect x="1032" y="250" width="2" height="3" fill="#089981"/>
<rect x="1030" y="251" width="6" height="1" fill="#089981"/>
<rect x="1038" y="254" width="2" height="11" fill="#f23645"/>
<rect x="1036" y="263" width="6" height="2" fill="#f23645"/>
<rect x="1043" y="255" width="2" height="18" fill="#089981"/>
<rect x="1042" y="271" width="5" height="1" fill="#089981"/>
<rect x="1049" y="260" width="2" height="26" fill="#089981"/>
<rect x="1047" y="283" width="6" height="2" fill="#089981"/>
<rect x="1055" y="259" width="2" height="34" fill="#089981"/>
<rect x="1053" y="291" width="6" height="1" fill="#089981"/>
<rect x="1060" y="268" width="2" height="20" fill="#f23645"/>
<rect x="1059" y="268" width="5" height="11" fill="#f23645"/>
<rect x="1066" y="261" width="2" height="10" fill="#089981"/>
<rect x="1064" y="261" width="6" height="10" fill="#089981"/>
<rect x="1072" y="251" width="2" height="18" fill="#089981"/>
<rect x="1070" y="251" width="6" height="3" fill="#089981"/>
<rect x="1077" y="247" width="2" height="28" fill="#f23645"/>
<rect x="1076" y="270" width="5" height="5" fill="#f23645"/>
<rect x="1083" y="270" width="2" height="11" fill="#f23645"/>
<rect x="1081" y="277" width="6" height="4" fill="#f23645"/>
<rect x="1089" y="257" width="2" height="35" fill="#089981"/>
<rect x="1087" y="277" width="6" height="15" fill="#089981"/>
<rect x="1094" y="290" width="2" height="3" fill="#089981"/>
<rect x="1093" y="291" width="5" height="1" fill="#089981"/>
<rect x="1100" y="279" width="2" height="25" fill="#f23645"/>
<rect x="1098" y="302" width="6" height="2" fill="#f23645"/>
<rect x="1106" y="295" width="2" height="13" fill="#f23645"/>
<rect x="1104" y="306" width="6" height="1" fill="#f23645"/>
<rect x="1111" y="316" width="2" height="3" fill="#f23645"/>
<rect x="1110" y="316" width="5" height="3" fill="#f23645"/>
<rect x="1117" y="321" width="2" height="3" fill="#089981"/>
<rect x="1115" y="322" width="6" height="1" fill="#089981"/>
<rect x="1122" y="306" width="2" height="25" fill="#f23645"/>
<rect x="1121" y="329" width="5" height="2" fill="#f23645"/>
<rect x="1128" y="305" width="2" height="36" fill="#089981"/>
<rect x="1126" y="305" width="6" height="36" fill="#089981"/>
<rect x="1134" y="294" width="2" height="3" fill="#089981"/>
<rect x="1132" y="295" width="6" height="1" fill="#089981"/>
<rect x="1139" y="292" width="2" height="7" fill="#089981"/>
<rect x="1138" y="293" width="5" height="1" fill="#089981"/>
<rect x="1145" y="285" width="2" height="36" fill="#f23645"/>
<rect x="1143" y="285" width="6" height="26" fill="#f23645"/>
<rect x="1151" y="296" width="2" height="26" fill="#089981"/>
<rect x="1149" y="320" width="6" height="2" fill="#089981"/>
<rect x="1156" y="289" width="2" height="37" fill="#089981"/>
<rect x="1155" y="317" width="5" height="9" fill="#089981"/>
<rect x="1162" y="291" width="2" height="36" fill="#089981"/>
<rect x="1160" y="301" width="6" height="26" fill="#089981"/>
<rect x="1168" y="308" width="2" height="18" fill="#f23645"/>
<rect x="1166" y="317" width="6" height="9" fill="#f23645"/>
<rect x="1173" y="317" width="2" height="15" fill="#f23645"/>
<rect x="1172" y="317" width="5" height="15" fill="#f23645"/>
<rect x="1179" y="318" width="2" height="18" fill="#089981"/>
<rect x="1177" y="329" width="6" height="4" fill="#089981"/>
<rect x="1185" y="310" width="2" height="32" fill="#089981"/>
<rect x="1183" y="340" width="6" height="2" fill="#089981"/>
<rect x="1190" y="336" width="2" height="6" fill="#f23645"/>
<rect x="1189" y="336" width="5" height="6" fill="#f23645"/>
<rect x="1196" y="323" width="2" height="27" fill="#f23645"/>
<rect x="1194" y="348" width="6" height="2" fill="#f23645"/>
<rect x="1202" y="318" width="2" height="29" fill="#089981"/>
<rect x="1200" y="324" width="6" height="23" fill="#089981"/>
<rect x="1207" y="324" width="2" height="25" fill="#f23645"/>
<rect x="1206" y="330" width="5" height="19" fill="#f23645"/>
<rect x="1213" y="316" width="2" height="37" fill="#089981"/>
<rect x="1211" y="329" width="6" height="22" fill="#089981"/>
<rect x="1218" y="316" width="2" height="3" fill="#089981"/>
<rect x="1217" y="317" width="5" height="1" fill="#089981"/>
<rect x="1224" y="308" width="2" height="3" fill="#089981"/>
<rect x="1222" y="309" width="6" height="1" fill="#089981"/>
<rect x="1230" y="303" width="2" height="36" fill="#f23645"/>
<rect x="1228" y="303" width="6" height="32" fill="#f23645"/>
<rect x="1235" y="307" width="2" height="23" fill="#089981"/>
<rect x="1234" y="307" width="5" height="23" fill="#089981"/>
<rect x="1241" y="300" width="2" height="15" fill="#089981"/>
<rect x="1239" y="301" width="6" height="1" fill="#089981"/>
<rect x="1247" y="293" width="2" height="3" fill="#089981"/>
<rect x="1245" y="294" width="6" height="1" fill="#089981"/>
<rect x="1252" y="290" width="2" height="3" fill="#089981"/>
<rect x="1251" y="291" width="5" height="1" fill="#089981"/>
<rect x="1258" y="280" width="2" height="37" fill="#089981"/>
<rect x="1256" y="281" width="6" height="1" fill="#089981"/>
<rect x="1264" y="273" width="2" height="4" fill="#089981"/>
<rect x="1262" y="273" width="6" height="4" fill="#089981"/>
<rect x="1269" y="265" width="2" height="26" fill="#f23645"/>
<rect x="1268" y="266" width="5" height="1" fill="#f23645"/>
<rect x="1275" y="277" width="2" height="20" fill="#f23645"/>
<rect x="1273" y="277" width="6" height="14" fill="#f23645"/>
<rect x="1281" y="265" width="2" height="34" fill="#089981"/>
<rect x="1279" y="273" width="6" height="26" fill="#089981"/>
<rect x="1286" y="263" width="2" height="32" fill="#089981"/>
<rect x="1285" y="263" width="5" height="32" fill="#089981"/>
<rect x="1292" y="247" width="2" height="14" fill="#089981"/>
<rect x="1290" y="247" width="6" height="14" fill="#089981"/>
<rect x="1298" y="250" width="2" height="22" fill="#f23645"/>
<rect x="1296" y="250" width="6" height="22" fill="#f23645"/>
<rect x="1303" y="250" width="2" height="36" fill="#089981"/>
<rect x="1302" y="261" width="5" height="25" fill="#089981"/>
<rect x="1309" y="251" width="2" height="15" fill="#089981"/>
<rect x="1307" y="252" width="6" height="2" fill="#089981"/>
<rect x="1314" y="245" width="2" height="18" fill="#089981"/>
<rect x="1313" y="246" width="5" height="1" fill="#089981"/>
<rect x="1320" y="235" width="2" height="9" fill="#089981"/>
<rect x="1318" y="236" width="6" height="1" fill="#089981"/>
<rect x="1326" y="238" width="2" height="28" fill="#f23645"/>
<rect x="1324" y="238" width="6" height="26" fill="#f23645"/>
<rect x="1331" y="250" width="2" height="22" fill="#f23645"/>
<rect x="1330" y="270" width="5" height="2" fill="#f23645"/>
<rect x="1337" y="241" width="2" height="5" fill="#089981"/>
<rect x="1335" y="241" width="6" height="5" fill="#089981"/>
<rect x="1343" y="233" width="2" height="17" fill="#f23645"/>
<rect x="1341" y="233" width="6" height="4" fill="#f23645"/>
<rect x="1348" y="231" width="2" height="33" fill="#089981"/>
<rect x="1347" y="251" width="5" height="13" fill="#089981"/>
<rect x="1354" y="255" width="2" height="16" fill="#f23645"/>
<rect x="1352" y="255" width="6" height="16" fill="#f23645"/>
<rect x="1360" y="244" width="2" height="35" fill="#089981"/>
<rect x="1358" y="244" width="6" height="31" fill="#089981"/>
<rect x="1365" y="250" width="2" height="28" fill="#089981"/>
<rect x="1364" y="267" width="5" height="11" fill="#089981"/>
<rect x="1371" y="255" width="2" height="29" fill="#f23645"/>
<rect x="1369" y="272" width="6" height="12" fill="#f23645"/>
<rect x="1377" y="279" width="2" height="9" fill="#f23645"/>
<rect x="1375" y="286" width="6" height="1" fill="#f23645"/>
<rect x="1382" y="269" width="2" height="30" fill="#f23645"/>
<rect x="1381" y="286" width="5" height="6" fill="#f23645"/>
<rect x="1388" y="280" width="2" height="22" fill="#f23645"/>
<rect x="1386" y="280" width="6" height="22" fill="#f23645"/>
<rect x="1394" y="279" width="2" height="30" fill="#089981"/>
<rect x="1392" y="293" width="6" height="16" fill="#089981"/>
<rect x="1399" y="291" width="2" height="12" fill="#089981"/>
<rect x="1398" y="297" width="5" height="6" fill="#089981"/>
<rect x="1405" y="284" width="2" height="23" fill="#089981"/>
<rect x="1403" y="284" width="6" height="23" fill="#089981"/>
<rect x="1410" y="278" width="2" height="20" fill="#f23645"/>
<rect x="1409" y="278" width="5" height="7" fill="#f23645"/>
<rect x="1416" y="288" width="2" height="21" fill="#f23645"/>
<rect x="1414" y="297" width="6" height="6" fill="#f23645"/>
<rect x="1422" y="288" width="2" height="13" fill="#f23645"/>
<rect x="1420" y="295" width="6" height="6" fill="#f23645"/>
<rect x="1427" y="288" width="2" height="24" fill="#f23645"/>
<rect x="1426" y="288" width="5" height="24" fill="#f23645"/>
<rect x="1433" y="283" width="2" height="32" fill="#f23645"/>
<rect x="1431" y="283" width="6" height="32" fill="#f23645"/>
<rect x="1439" y="306" width="2" height="14" fill="#089981"/>
<rect x="1437" y="318" width="6" height="1" fill="#089981"/>
<rect x="1444" y="317" width="2" height="8" fill="#f23645"/>
<rect x="1443" y="323" width="5" height="2" fill="#f23645"/>
<rect x="1450" y="325" width="2" height="8" fill="#089981"/>
<rect x="1448" y="328" width="6" height="3" fill="#089981"/>
<rect x="1456" y="314" width="2" height="25" fill="#f23645"/>
<rect x="1454" y="314" width="6" height="15" fill="#f23645"/>
<rect x="1461" y="341" width="2" height="3" fill="#089981"/>
<rect x="1460" y="342" width="5" height="1" fill="#089981"/>
<rect x="1467" y="348" width="2" height="10" fill="#089981"/>
<rect x="1465" y="356" width="6" height="1" fill="#089981"/>
<rect x="1473" y="337" width="2" height="38" fill="#089981"/>
<rect x="1471" y="373" width="6" height="1" fill="#089981"/>
<rect x="1478" y="368" width="2" height="19" fill="#f23645"/>
<rect x="1477" y="384" width="5" height="3" fill="#f23645"/>
<rect x="1484" y="361" width="2" height="29" fill="#089981"/>
<rect x="1482" y="364" width="6" height="26" fill="#089981"/>
<rect x="1490" y="369" width="2" height="23" fill="#089981"/>
<rect x="1488" y="384" width="6" height="2" fill="#089981"/>
<rect x="1495" y="383" width="2" height="14" fill="#f23645"/>
<rect x="1494" y="383" width="5" height="14" fill="#f23645"/>
<rect x="1501" y="393" width="2" height="8" fill="#089981"/>
<rect x="1499" y="393" width="6" height="8" fill="#089981"/>
<rect x="1506" y="384" width="2" height="21" fill="#f23645"/>
<rect x="1505" y="385" width="5" height="5" fill="#f23645"/>
<rect x="1512" y="391" width="2" height="18" fill="#089981"/>
<rect x="1510" y="392" width="6" height="2" fill="#089981"/>
<rect x="1518" y="387" width="2" height="9" fill="#f23645"/>
<rect x="1516" y="387" width="6" height="9" fill="#f23645"/>
<rect x="1523" y="378" width="2" height="31" fill="#089981"/>
<rect x="1522" y="385" width="5" height="2" fill="#089981"/>
<rect x="1529" y="377" width="2" height="26" fill="#089981"/>
<rect x="1527" y="397" width="6" height="6" fill="#089981"/>
<rect x="1535" y="387" width="2" height="23" fill="#089981"/>
<rect x="1533" y="402" width="6" height="8" fill="#089981"/>
<rect x="1540" y="397" width="2" height="16" fill="#089981"/>
<rect x="1539" y="403" width="5" height="4" fill="#089981"/>
<rect x="1546" y="412" width="2" height="3" fill="#089981"/>
<rect x="1544" y="413" width="6" height="1" fill="#089981"/>
<rect x="1552" y="411" width="2" height="7" fill="#f23645"/>
<rect x="1550" y="411" width="6" height="7" fill="#f23645"/>
<rect x="1557" y="411" width="2" height="14" fill="#089981"/>
<rect x="1556" y="423" width="5" height="1" fill="#089981"/>
<rect x="1563" y="413" width="2" height="18" fill="#f23645"/>
<rect x="1561" y="429" width="6" height="2" fill="#f23645"/>
</g>
<text x="950" y="433" text-anchor="end" font-size="25.6" fill="#00332e">انجمن خبرگان سرمایه گذاری ایران</text>
<text x="950.8" y="461" text-anchor="end" font-size="25" letter-spacing="1.63" fill="#00332e">Amoozesh-boors.com</text>
<line x1="3" y1="430" x2="1747" y2="430" stroke="#ee0818" stroke-width="2" stroke-dasharray="2 4" shape-rendering="crispEdges"/>
<rect x="0" y="785" width="1886" height="2" fill="#e0e3eb"/>
<rect x="0" y="835" width="1795" height="70" fill="#f2eef9"/>
<line x1="-10" y1="835" x2="1795" y2="835" stroke="#787b86" stroke-width="2" stroke-dasharray="10 12"/>
<line x1="-10" y1="905" x2="1795" y2="905" stroke="#787b86" stroke-width="2" stroke-dasharray="10 12"/>
<path d="M0.0 889.8 L4.2 884.7 L10.0 880.8 L16.0 885.0 L22.0 895.8 L31.5 895.0 L37.9 897.7 L43.9 899.7 L49.9 876.7 L57.7 873.0 L65.5 869.5 L71.7 864.0 L78.0 864.0 L84.0 862.8 L90.0 879.7 L94.0 876.7 L100.0 872.7 L106.0 884.5 L111.7 888.0 L117.7 892.2 L121.9 894.0 L127.9 871.0 L133.9 886.0 L139.9 884.5 L145.9 889.0 L151.9 881.5 L156.0 894.7 L162.0 901.2 L168.0 905.2 L174.0 908.2 L180.0 905.5 L186.0 904.9 L190.0 908.2 L196.0 911.2 L201.7 914.2 L207.7 916.8 L214.0 918.9 L218.2 916.9 L224.2 916.6 L230.2 921.3 L236.2 924.0 L241.9 926.4 L247.9 928.5 L252.0 930.0 L258.0 931.5 L264.0 926.2 L269.9 926.2 L275.9 917.2 L281.9 908.5 L286.0 917.7 L292.0 901.5 L298.0 888.0 L304.0 882.7 L310.0 865.5 L314.0 858.0 L320.0 856.0 L326.0 873.0 L332.0 879.7 L338.0 883.8 L344.0 879.0 L347.9 877.9 L353.9 889.9 L359.9 896.7 L365.9 900.0 L371.9 895.5 L377.9 891.7 L382.0 903.4 L388.0 910.2 L394.0 911.2 L400.0 912.0 L405.7 912.1 L410.0 906.3 L416.0 905.7 L422.0 904.5 L428.0 901.9 L434.0 898.5 L437.9 894.0 L443.9 886.5 L449.9 892.2 L455.9 877.2 L461.9 879.7 L467.9 883.2 L473.9 873.7 L478.0 874.2 L484.0 870.7 L490.0 868.0 L496.0 868.9 L502.0 877.8 L506.0 879.7 L512.0 879.7 L518.0 880.0 L524.0 881.2 L530.0 882.0 L536.0 883.8 L546.0 883.8 L552.0 886.0 L558.0 886.9 L564.0 894.7 L570.0 903.3 L573.9 884.5 L579.9 879.4 L585.9 868.8 L591.9 873.0 L597.9 876.0 L602.0 879.0 L608.0 885.4 L614.0 886.0 L620.0 866.2 L626.0 860.2 L632.0 864.4 L636.0 880.2 L642.0 874.5 L648.0 885.4 L654.0 889.0 L660.0 889.5 L666.0 894.7 L669.9 880.8 L675.9 868.0 L681.9 863.7 L687.9 868.9 L693.9 861.0 L698.0 858.7 L704.0 853.9 L710.0 857.5 L716.0 846.4 L722.0 854.7 L728.0 842.2 L732.0 841.2 L738.0 838.9 L744.0 837.0 L750.0 834.7 L756.0 826.5 L762.0 823.5 L765.9 818.5 L771.9 816.4 L777.9 813.3 L783.9 809.7 L789.9 824.2 L794.0 820.8 L799.9 818.7 L805.9 816.0 L811.9 812.7 L817.0 811.8 L823.0 810.0 L828.0 808.8 L834.0 830.7 L840.0 817.5 L846.0 813.7 L852.0 811.0 L856.9 808.9 L862.9 805.2 L868.0 802.8 L874.0 822.3 L880.0 829.8 L885.0 841.9 L889.9 852.3 L895.9 855.0 L901.9 849.7 L907.9 847.5 L913.9 840.4 L919.9 855.3 L924.0 861.0 L930.0 867.7 L936.0 870.7 L942.0 873.7 L949.0 876.4 L955.0 868.9 L958.9 870.0 L964.9 860.5 L970.9 867.4 L976.9 874.9 L982.9 878.5 L987.0 883.2 L993.0 881.2 L999.0 890.2 L1005.0 891.0 L1011.0 888.4 L1017.0 894.0 L1021.0 897.0 L1027.0 900.0 L1033.0 906.0 L1038.7 910.2 L1045.0 913.0 L1054.9 918.3 L1060.0 907.8 L1067.0 893.7 L1073.0 886.5 L1079.0 896.5 L1082.9 898.8 L1088.9 895.8 L1094.9 901.5 L1100.9 905.5 L1106.9 907.0 L1112.9 910.8 L1117.0 912.0 L1123.0 914.2 L1129.0 894.0 L1135.0 887.2 L1141.0 885.7 L1147.0 893.2 L1151.0 898.0 L1157.0 895.5 L1163.0 883.5 L1169.0 893.7 L1175.0 896.2 L1178.9 894.7 L1184.9 898.9 L1190.9 900.0 L1196.9 903.0 L1202.9 884.5 L1208.9 894.3 L1213.0 882.3 L1219.0 876.0 L1225.0 871.0 L1231.0 882.7 L1237.0 868.9 L1243.0 866.2 L1247.0 862.8 L1253.0 861.0 L1259.0 856.9 L1265.0 852.7 L1271.0 849.3 L1274.9 865.0 L1280.9 856.9 L1286.9 852.0 L1292.9 845.7 L1298.9 860.5 L1304.9 856.0 L1309.0 852.4 L1315.0 849.7 L1321.0 845.5 L1327.0 862.5 L1332.9 867.0 L1338.9 853.8 L1343.0 851.7 L1349.0 861.0 L1355.0 869.7 L1361.0 859.2 L1365.9 868.5 L1371.0 876.0 L1377.0 877.5 L1383.0 879.7 L1389.0 883.5 L1395.0 879.0 L1401.0 880.9 L1404.9 873.7 L1410.9 873.3 L1416.9 882.4 L1422.9 880.9 L1428.9 886.0 L1434.9 887.7 L1440.9 890.2 L1446.0 892.5 L1451.0 894.0 L1457.0 894.0 L1463.0 900.0 L1467.0 905.7 L1473.0 911.7 L1479.0 915.3 L1485.0 897.7 L1491.0 904.5 L1497.0 908.2 L1506.9 903.0 L1512.9 904.5 L1518.9 904.9 L1524.9 897.0 L1529.0 900.0 L1535.0 903.3 L1541.0 904.0 L1547.0 907.8 L1553.0 909.7 L1557.9 911.7 L1563.5 914.7" fill="none" stroke="#7e57c2" stroke-width="2" stroke-linejoin="round" stroke-linecap="round"/>
<text x="1811.5" y="38" font-size="24" letter-spacing="-0.7" fill="#131722">2,600</text>
<text x="1811.5" y="141" font-size="24" letter-spacing="-0.7" fill="#131722">2,200</text>
<text x="1811.5" y="230" font-size="24" letter-spacing="-0.7" fill="#131722">1,900</text>
<text x="1811.5" y="300" font-size="24" letter-spacing="-0.7" fill="#131722">1,700</text>
<text x="1811.5" y="375" font-size="24" letter-spacing="-0.7" fill="#131722">1,500</text>
<text x="1811.5" y="518" font-size="24" letter-spacing="-0.7" fill="#131722">1,190</text>
<text x="1811.5" y="583" font-size="24" letter-spacing="-0.7" fill="#131722">1,070</text>
<text x="1811.5" y="644" font-size="24" letter-spacing="-0.7" fill="#131722">970</text>
<text x="1811.5" y="711" font-size="24" letter-spacing="-0.7" fill="#131722">870</text>
<text x="1811.5" y="778" font-size="24" letter-spacing="-0.7" fill="#131722">780</text>
<text x="1811.5" y="825.5" font-size="24" letter-spacing="-0.7" fill="#131722">80.00</text>
<text x="1811.5" y="896" font-size="24" letter-spacing="-0.7" fill="#131722">40.00</text>
<path d="M1795 239 H1875 a4 4 0 0 1 4 4 V269 a4 4 0 0 1 -4 4 H1795 Z" fill="#00332e"/>
<text x="1811.5" y="263.7" font-size="24" letter-spacing="-0.7" fill="#fff">1,800</text>
<path d="M1751 413 H1793 V447 H1751 a4 4 0 0 1 -4 -4 V417 a4 4 0 0 1 4 -4 Z" fill="#f23645"/>
<path d="M1795 413 H1875 a4 4 0 0 1 4 4 V443 a4 4 0 0 1 -4 4 H1795 Z" fill="#f23645"/>
<text x="1811.5" y="436.8" font-size="24" letter-spacing="-0.7" fill="#fff">1,355</text>
<text x="1769" y="437" font-size="22" fill="#fff" text-anchor="middle">بنو</text>
<text x="100.4" y="984" font-size="23.4" fill="#131722" text-anchor="middle">اردیبهشت</text>
<text x="291.8" y="984" font-size="23.4" fill="#131722" text-anchor="middle">تیر</text>
<text x="455.5" y="984" font-size="23.4" fill="#131722" text-anchor="middle">شهریور</text>
<text x="649.0" y="984" font-size="23.4" fill="#131722" text-anchor="middle">آبان</text>
<text x="896.4" y="984" font-size="23.4" fill="#131722" text-anchor="middle" font-weight="bold">1403</text>
<text x="1083.5" y="984" font-size="23.4" fill="#131722" text-anchor="middle">اسفند</text>
<text x="1298.7" y="984" font-size="23.4" fill="#131722" text-anchor="middle">اردیبهشت</text>
<text x="1479.1" y="984" font-size="23.4" fill="#131722" text-anchor="middle">تیر</text>
<text x="1704.2" y="984" font-size="23.4" fill="#131722" text-anchor="middle">شهریور</text>
<path d="M1831.5 975 L1839 962.8 H1853.5 L1860.5 975 L1853.5 987.2 H1839 Z" fill="none" stroke="#131722" stroke-width="1.6" stroke-linejoin="round"/>
<circle cx="1845.8" cy="975" r="4" fill="none" stroke="#131722" stroke-width="1.6"/>
</svg></body></html>
